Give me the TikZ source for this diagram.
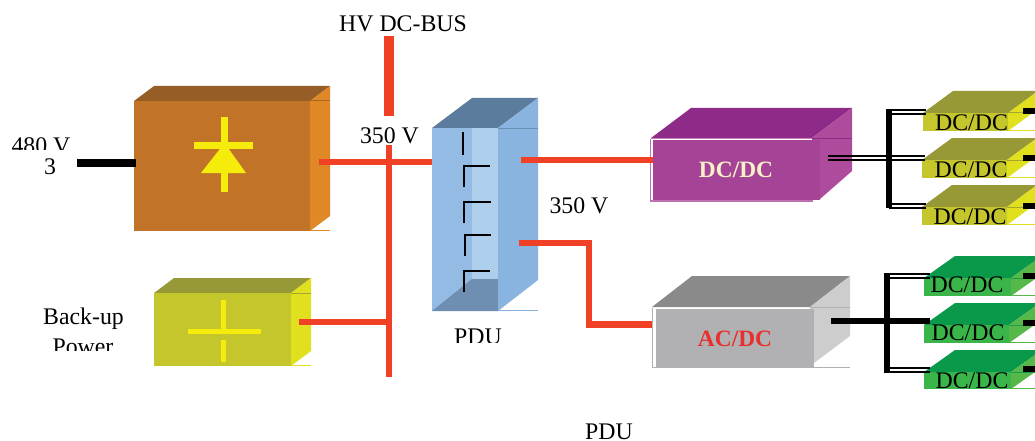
\documentclass[tikz,border=0pt]{standalone}
\usepackage{fontspec}
\setmainfont{Liberation Serif}
\definecolor{busred}{HTML}{F04026}
\definecolor{brtop}{HTML}{965E26}\definecolor{brfront}{HTML}{C17428}\definecolor{brside}{HTML}{E08726}
\definecolor{yetop}{HTML}{979836}\definecolor{yefront}{HTML}{C5C62C}\definecolor{yeside}{HTML}{E0E01E}
\definecolor{putop}{HTML}{8E2A88}\definecolor{pufront}{HTML}{A54396}\definecolor{puside}{HTML}{AE4B9C}
\definecolor{grtop}{HTML}{8A8A8A}\definecolor{grfront}{HTML}{B1B1B3}\definecolor{grside}{HTML}{CDCDCD}
\definecolor{gntop}{HTML}{0A994B}\definecolor{gnfront}{HTML}{3AB54A}\definecolor{gnside}{HTML}{57B84A}
\definecolor{pdtop}{HTML}{5C7C9E}\definecolor{pdleft}{HTML}{93BBE4}\definecolor{pdright}{HTML}{AECFEC}\definecolor{pdside}{HTML}{8AB4E0}\definecolor{pdfloor}{HTML}{6F8FB2}
\definecolor{symyel}{HTML}{F5EC0C}\definecolor{cream}{HTML}{F7F0C8}\definecolor{acred}{HTML}{E8302E}
\tikzset{
  txt/.style={inner sep=0pt,font=\fontsize{23.8}{28}\selectfont,text=black},
  boldtxt/.style={inner sep=0pt,font=\fontsize{23.4}{28}\selectfont\bfseries},
  redline/.style={draw=busred,line width=5.5pt},
  blackline/.style={draw=black,line width=5.5pt},
  thinline/.style={draw=black,line width=1.4pt},
  switchline/.style={draw=black,line width=2.6pt},
  symbol/.style={draw=symyel,line width=6pt},
}
\newcommand{\boxthreed}[8]{% name,x0,y0,x1,y1,dx,dy,colour stem
  \fill[#8top] (#2,#3) -- (#2+#6,#3-#7) -- (#4+#6,#3-#7) -- (#4,#3) -- cycle;
  \fill[#8side] (#4,#3) -- (#4+#6,#3-#7) -- (#4+#6,#5-#7) -- (#4,#5) -- cycle;
  \draw[#8side,line width=1pt] (#4,#5-0.5) -- (#4+#6,#5-0.5);
  \draw[#8top!80!#8side,line width=1pt] (#4,#3) -- (#4+#6,#3);
  \node[fill=#8front,inner sep=0pt,minimum width=#4pt-#2pt,minimum height=#5pt-#3pt,anchor=center] (#1) at ({(#2+#4)/2},{(#3+#5)/2}) {};
}
\begin{document}
\begin{tikzpicture}[x=1pt,y=-1pt]
\clip (0,0) rectangle (1035,441);
\fill[white] (0,0) rectangle (1035,441);

% brown rectifier
\boxthreed{rect}{134}{101}{310}{231}{20}{15}{br}
% yellow back-up
\boxthreed{backup}{154}{293}{291}{366}{20}{15}{ye}
\draw[symbol,line width=7pt] (224.5,117) -- (224.5,192);
\draw[symbol,line width=7pt] (194,145.5) -- (253,145.5);
\fill[symyel] (224.5,143) -- (246,173) -- (201,173) -- cycle;
\draw[symbol,line width=5pt] (223.5,300) -- (223.5,329);
\draw[symbol,line width=5pt] (223.5,340) -- (223.5,362);
\draw[symbol,line width=5pt] (188,331.5) -- (261,331.5);

% PDU
\fill[pdtop] (432,128) -- (472,98) -- (538,98) -- (498,128) -- cycle;
\fill[pdside] (498,128) -- (538,98) -- (538,280) -- (498,311) -- cycle;
\draw[pdtop!70!pdside,line width=1pt] (498,128.5) -- (538,128.5);
\draw[pdside,line width=1pt] (498,310.5) -- (538,310.5);
\node[fill=pdleft,inner sep=0pt,minimum width=40pt,minimum height=183pt] (pdu) at (452,219.5) {};
\fill[pdright] (472,128) rectangle (498,311);
\fill[pdfloor] (432,311) -- (472,279) -- (498,279) -- (498,311) -- cycle;
\coordinate (s0a) at (463,132); \coordinate (s0b) at (463,155);
\draw[switchline] (s0a) -- (s0b);
\coordinate (s1a) at (464,187); \coordinate (s1b) at (464,166); \coordinate (s1c) at (490,166);
\draw[switchline] (s1a) -- (s1b) -- (s1c);
\coordinate (s2a) at (464,223); \coordinate (s2b) at (464,202); \coordinate (s2c) at (491,202);
\draw[switchline] (s2a) -- (s2b) -- (s2c);
\coordinate (s3a) at (465,256); \coordinate (s3b) at (465,235); \coordinate (s3c) at (491,235);
\draw[switchline] (s3a) -- (s3b) -- (s3c);
\coordinate (s4a) at (464,292); \coordinate (s4b) at (464,271); \coordinate (s4c) at (490,271);
\draw[switchline] (s4a) -- (s4b) -- (s4c);

% purple DC/DC
\fill[putop] (651,138) -- (691,108) -- (852,108) -- (812,138) -- cycle;
\fill[puside] (812,138) -- (852,108) -- (852,171) -- (820,199) -- (812,199) -- cycle;
\draw[putop,line width=0.8pt] (812,138.5) -- (852,138.5);
\draw[puside!80!white,line width=1.2pt] (650.5,138.5) -- (650.5,201) -- (813,201);
\draw[puside!70!white,line width=1pt] (650.5,138.5) -- (812,138.5);
\node[fill=pufront,inner sep=0pt,minimum width=167pt,minimum height=60pt] (dcmain) at (736.5,169.5) {};
\node[boldtxt,text=cream] (dcmainl) at (736,170) {DC/DC};

% grey AC/DC
\fill[grtop] (652,307) -- (692,276) -- (850,276) -- (810,307) -- cycle;
\fill[grside] (810,307) -- (850,276) -- (850,336) -- (814,363) -- (810,363) -- cycle;
\draw[grfront,line width=1pt] (810,307) -- (850,307);
\draw[grfront,line width=1pt] (652,307.5) -- (652,367) -- (850,367);
\node[fill=grfront,inner sep=0pt,minimum width=158pt,minimum height=58pt] (acmain) at (735,338) {};
\node[boldtxt,text=acred] (acmainl) at (735,339) {AC/DC};

% output stages
\foreach \nm/\xa/\xb/\ya/\yb in {ya/923/1008/113/131, yb/922/1007/160/178, yc/922/1007/207/225}{
  \boxthreed{\nm}{\xa}{\ya}{\xb}{\yb}{30}{22}{ye}
}
\foreach \nm/\xa/\xb/\ya/\yb in {ga/924/1011/278/296, gb/924/1009/325/343, gc/924/1011/372/389}{
  \boxthreed{\nm}{\xa}{\ya}{\xb}{\yb}{31}{22}{gn}
}
\node[txt] (yal) at (971.5,123) {DC/DC};
\node[txt] (ybl) at (971,170) {DC/DC};
\node[txt] (ycl) at (970,217) {DC/DC};
\node[txt] (gal) at (967,285) {DC/DC};
\node[txt] (gbl) at (968,333) {DC/DC};
\node[txt] (gcl) at (972,381) {DC/DC};

% connectors
\coordinate (inA) at (77,163); \coordinate (inB) at (136,163);
\draw[blackline,line width=8pt] (inA) -- (inB);
\coordinate (busAt) at (389,36); \coordinate (busAb) at (389,116);
\draw[redline,line width=10pt] (busAt) -- (busAb);
\coordinate (busBt) at (389,145); \coordinate (busBb) at (389,377);
\draw[redline] (busBt) -- (busBb);
\coordinate (r1) at (319,162);
\draw[redline] (r1) -- (pdu.west |- r1);
\coordinate (b1) at (299,322); \coordinate (b2) at (389,322);
\draw[redline] (b1) -- (b2);
\coordinate (p1) at (521,160);
\draw[redline] (p1) -- (dcmain.west |- p1);
\coordinate (q1) at (519,243); \coordinate (q2) at (589,243); \coordinate (q3) at (589,324); \coordinate (q4) at (652,324);
\draw[redline,line join=miter] (q1) -- (q2) -- (q3);
\draw[redline,line width=7pt] (586.2,324) -- (q4);

% purple distribution
\coordinate (dt) at (889,109); \coordinate (db) at (889,208);
\draw[blackline] (dt) -- (db);
\foreach \yy in {156,160}{\coordinate (m\yy) at (828,\yy); \coordinate (n\yy) at (925,\yy); \draw[thinline] (m\yy) -- (n\yy);}
\foreach \yy in {110,114,204,208}{\coordinate (m\yy) at (889,\yy); \coordinate (n\yy) at (926,\yy); \draw[thinline] (m\yy) -- (n\yy);}

% grey distribution
\coordinate (gt) at (887,273); \coordinate (gbb) at (887,373);
\draw[blackline] (gt) -- (gbb);
\coordinate (g1) at (831,321); \coordinate (g2) at (930,321);
\draw[blackline] (g1) -- (g2);
\foreach \yy in {274,278,368,372}{\coordinate (h\yy) at (887,\yy); \coordinate (k\yy) at (930,\yy); \draw[thinline] (h\yy) -- (k\yy);}

% output stubs
\foreach \nm/\yy in {sa/111,sb/158,sc/206,sd/276,se/323,sf/369}{
  \coordinate (\nm1) at (1023,\yy); \coordinate (\nm2) at (1035,\yy);
  \draw[blackline] (\nm1) -- (\nm2);
}

% labels
\node[txt] (hv) at (403,24) {HV DC-BUS};
\node[txt] (v1) at (389.5,136) {350 V};
\node[txt] (v2) at (579,206) {350 V};
\begin{scope}
  \clip (0,120) rectangle (120,149.5);
  \node[txt] (v480) at (41,146) {480 V};
\end{scope}
\node[txt] (three) at (50,167) {3};
\node[txt] (bk) at (83.5,319) {Back-up};
\begin{scope}
  \clip (0,335) rectangle (140,350);
  \node[txt] (pw) at (83,347) {Power};
\end{scope}
\begin{scope}
  \clip (440,320) rectangle (520,342);
  \node[txt] (pdul) at (478,337) {PDU};
\end{scope}
\node[txt] (pdub) at (609,432) {PDU};
\end{tikzpicture}
\end{document}
